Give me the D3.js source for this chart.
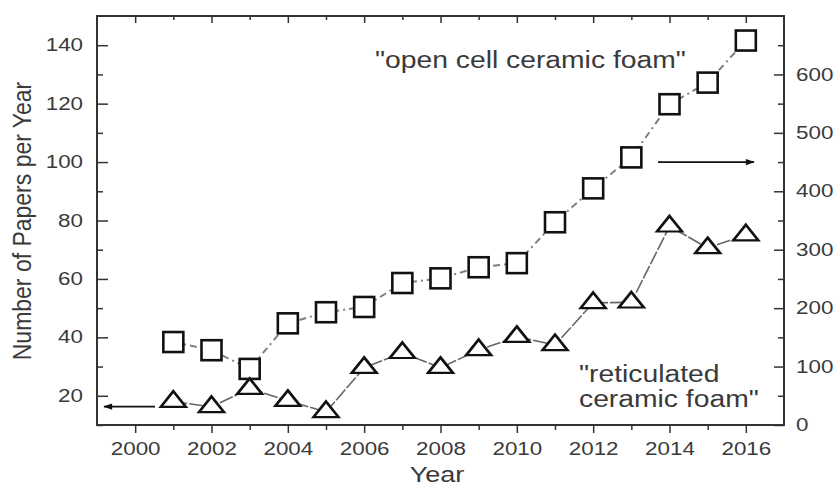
<!DOCTYPE html>
<html>
<head>
<meta charset="utf-8">
<script src="https://cdn.jsdelivr.net/npm/d3@7"></script>
<style>
  body { margin: 0; background: #fff; }
  text { font-family: "Liberation Sans", Arial, sans-serif; fill: #3a3a3a; }
</style>
</head>
<body>
<div id="chart"></div>
<script>
// data
let years = [2001, 2002, 2003, 2004, 2005, 2006, 2007, 2008, 2009, 2010, 2011, 2012, 2013, 2014, 2015, 2016];
// "open cell ceramic foam" (right axis)
let openCell = [142, 128, 96, 174, 193, 202, 243, 251, 270, 277, 347, 405, 458, 549, 586, 658];
// "reticulated ceramic foam" (left axis)
let reticulated = [18, 16.2, 22.4, 18.3, 14.5, 29.6, 34.7, 29.6, 35.7, 40.2, 37.4, 51.8, 52, 78, 70.6, 75];
let leftTicks = [20, 40, 60, 80, 100, 120, 140];
let rightTicks = [0, 100, 200, 300, 400, 500, 600];
let yearTicks = [2000, 2002, 2004, 2006, 2008, 2010, 2012, 2014, 2016];

let width = 836, height = 486;
let margin = { top: 16, right: 52, bottom: 61, left: 97 };
let w = width - margin.left - margin.right;
let h = height - margin.top - margin.bottom;

// the picture is stretched sideways, so is its text
let tickSx = 1.28, labelSx = 1.23;

let x = d3.scaleLinear().domain([1999, 2017]).range([0, w]);
let yL = d3.scaleLinear().domain([10, 150]).range([h, 0]);
let yR = d3.scaleLinear().domain([0, 700]).range([h, 0]);

let svg = d3.select("#chart").append("svg")
    .attr("width", width)
    .attr("height", height)
    .append("g")
    .attr("transform", "translate(" + margin.left + "," + margin.top + ")");

svg.append("defs").append("marker")
    .attr("id", "arrow")
    .attr("viewBox", "0 0 10 10")
    .attr("refX", 9).attr("refY", 5)
    .attr("markerWidth", 6).attr("markerHeight", 5)
    .attr("markerUnits", "strokeWidth")
    .attr("orient", "auto")
    .append("path")
    .attr("d", "M0,1.5 L10,5 L0,8.5 Z")
    .attr("fill", "#111");

function styleAxis(g) {
    g.select(".domain").remove();
    g.selectAll("line").attr("stroke", "#333").attr("stroke-width", 1.5);
    g.selectAll("text").attr("font-size", 17.5).attr("fill", "#3a3a3a")
        .style("font-family", "'Liberation Sans', Arial, sans-serif")
        .attr("transform", "scale(" + tickSx + ",1)");
}

let minorYears = d3.range(2001, 2017, 2);

// bottom axis (ticks outward)
svg.append("g").attr("transform", "translate(0," + h + ")")
    .call(d3.axisBottom(x).tickValues(yearTicks).tickFormat(d3.format("d")).tickSize(8).tickPadding(10))
    .call(styleAxis);
svg.append("g").attr("transform", "translate(0," + h + ")")
    .call(d3.axisBottom(x).tickValues(minorYears).tickFormat("").tickSize(5))
    .call(styleAxis);
// top axis (ticks inward)
svg.append("g")
    .call(d3.axisTop(x).tickValues(yearTicks).tickFormat("").tickSize(-7))
    .call(styleAxis);
svg.append("g")
    .call(d3.axisTop(x).tickValues(minorYears).tickFormat("").tickSize(-4))
    .call(styleAxis);
// left axis (ticks inward)
svg.append("g")
    .call(d3.axisLeft(yL).tickValues(leftTicks).tickSize(-11))
    .call(styleAxis)
    .call(g => g.selectAll("text").attr("x", -14 / tickSx));
svg.append("g")
    .call(d3.axisLeft(yL).tickValues(d3.range(10, 150, 20)).tickFormat("").tickSize(-6))
    .call(styleAxis);
// right axis (ticks inward)
svg.append("g").attr("transform", "translate(" + w + ",0)")
    .call(d3.axisRight(yR).tickValues(rightTicks).tickSize(-10))
    .call(styleAxis)
    .call(g => g.selectAll("text").attr("x", 12 / tickSx));
svg.append("g").attr("transform", "translate(" + w + ",0)")
    .call(d3.axisRight(yR).tickValues(d3.range(50, 700, 100)).tickFormat("").tickSize(-6))
    .call(styleAxis);

// frame
svg.append("rect")
    .attr("width", w).attr("height", h)
    .attr("fill", "none").attr("stroke", "#333").attr("stroke-width", 2);

// lines
let openData = years.map((d, i) => [d, openCell[i]]);
let retData = years.map((d, i) => [d, reticulated[i]]);

svg.append("path")
    .datum(openData)
    .attr("fill", "none")
    .attr("stroke", "#808080")
    .attr("stroke-width", 2)
    .attr("stroke-dasharray", "7,4,2,4")
    .attr("d", d3.line().x(d => x(d[0])).y(d => yR(d[1])));

svg.append("path")
    .datum(retData)
    .attr("fill", "none")
    .attr("stroke", "#666")
    .attr("stroke-width", 1.6)
    .attr("stroke-dasharray", "14,2")
    .attr("d", d3.line().x(d => x(d[0])).y(d => yL(d[1])));

// markers
let sq = 20;
svg.selectAll(".sq")
    .data(openData)
    .enter().append("rect")
    .attr("class", "sq")
    .attr("x", d => x(d[0]) - sq / 2)
    .attr("y", d => yR(d[1]) - sq / 2)
    .attr("width", sq).attr("height", sq)
    .attr("fill", "#fff")
    .attr("stroke", "#111")
    .attr("stroke-width", 2.6);

let tri = d3.symbol().type(d3.symbolTriangle).size(230);
svg.selectAll(".tri")
    .data(retData)
    .enter().append("path")
    .attr("class", "tri")
    .attr("transform", d => "translate(" + x(d[0]) + "," + yL(d[1]) + ") scale(1.08,0.78)")
    .attr("d", tri)
    .attr("fill", "#fff")
    .attr("stroke", "#111")
    .attr("stroke-width", 2.8)
    .attr("stroke-linejoin", "miter");

// arrows
svg.append("line")
    .attr("x1", 658 - margin.left).attr("x2", 754 - margin.left)
    .attr("y1", yR(450)).attr("y2", yR(450))
    .attr("stroke", "#111").attr("stroke-width", 1.8)
    .attr("marker-end", "url(#arrow)");
svg.append("line")
    .attr("x1", 155 - margin.left).attr("x2", 104 - margin.left)
    .attr("y1", yL(16.3)).attr("y2", yL(16.3))
    .attr("stroke", "#111").attr("stroke-width", 1.8)
    .attr("marker-end", "url(#arrow)");

function label(px, py, str, size) {
    return svg.append("text")
        .attr("transform", "translate(" + (px - margin.left) + "," + (py - margin.top) + ") scale(" + labelSx + ",1)")
        .attr("font-size", size)
        .text(str);
}

// annotations
label(375, 68, "\"open cell ceramic foam\"", 23);
label(579, 382, "\"reticulated", 23);
label(579, 407, "ceramic foam\"", 23);

// axis titles
label(437, 482, "Year", 22).attr("text-anchor", "middle");
svg.append("text")
    .attr("transform", "translate(" + (31 - margin.left) + "," + (221 - margin.top) + ") rotate(-90) scale(1,1.1)")
    .attr("text-anchor", "middle")
    .attr("font-size", 23)
    .text("Number of Papers per Year");
</script>
</body>
</html>
